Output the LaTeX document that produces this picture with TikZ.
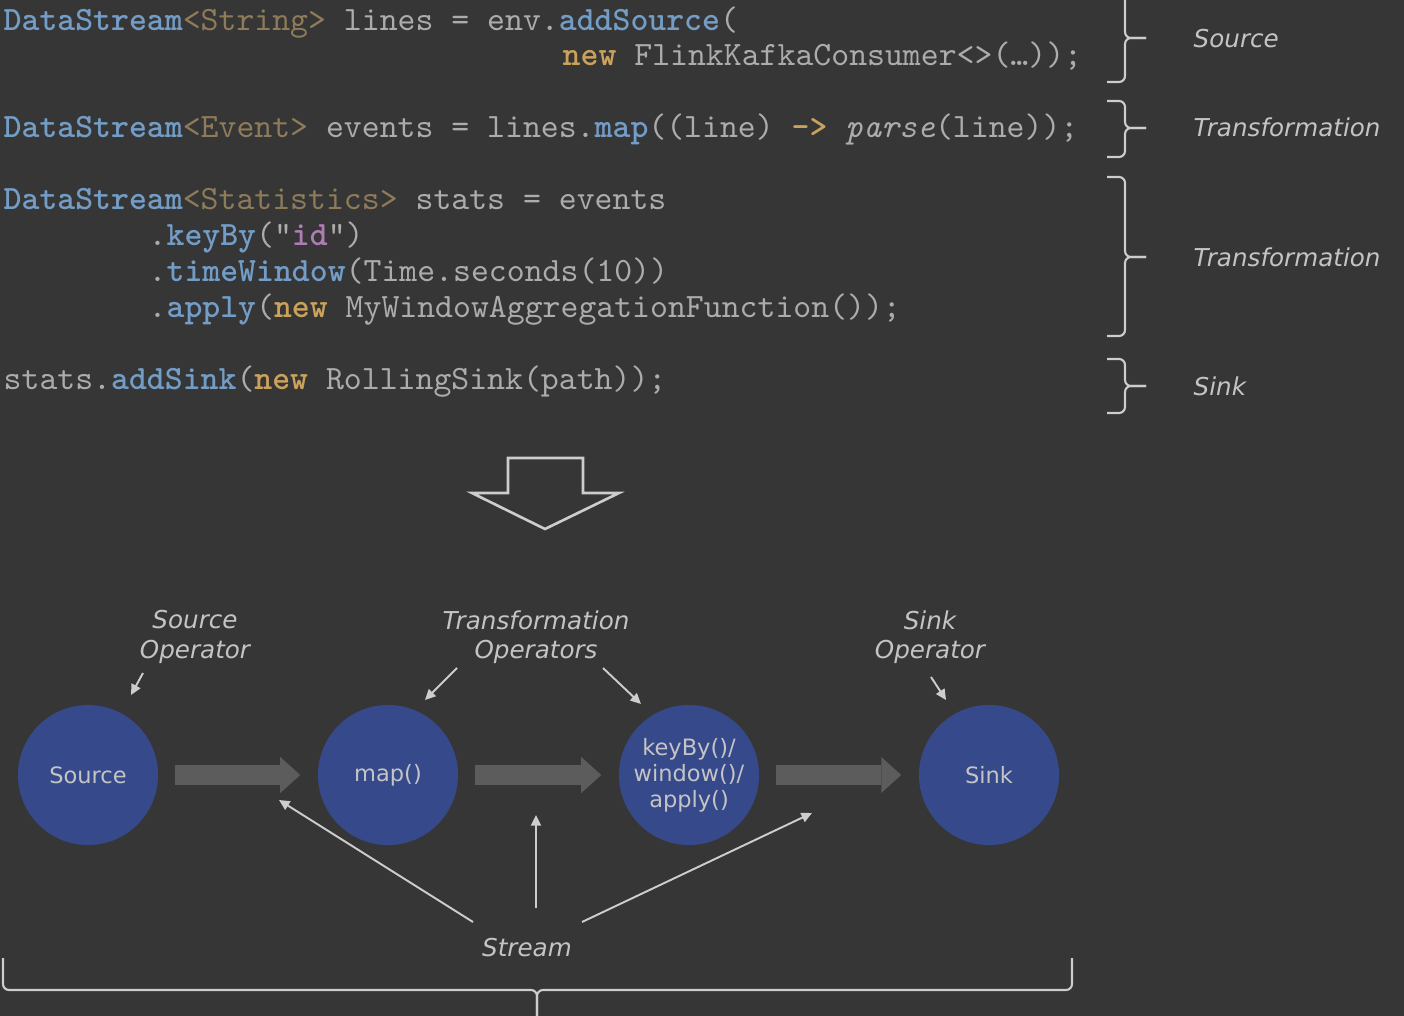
\documentclass[tikz,border=0pt]{standalone}
\usepackage{fontspec}
\setsansfont{DejaVu Sans}
\usepackage{xcolor}
\usetikzlibrary{arrows.meta,positioning,calc}

\definecolor{bgdark}{HTML}{363636}
\definecolor{codeplain}{HTML}{ACACAC}
\definecolor{codeblue}{HTML}{739DC6}
\definecolor{codetype}{HTML}{8E7B5A}
\definecolor{codekw}{HTML}{CBA25C}
\definecolor{codestr}{HTML}{B07CB6}
\definecolor{lbltext}{HTML}{C4C4C4}
\definecolor{opfill}{HTML}{36498A}
\definecolor{streamgray}{HTML}{5C5C5C}
\definecolor{linegray}{HTML}{CDCDCD}

\newcommand\codefont{\fontsize{9.7pt}{11pt}\ttfamily}
\newcommand\cfn[1]{{\bfseries\color{codeblue}#1}}
\newcommand\cty[1]{{\color{codetype}#1}}
\newcommand\ckw[1]{{\bfseries\color{codekw}#1}}
\newcommand\cstr[1]{{\bfseries\color{codestr}#1}}

\begin{document}
\begin{tikzpicture}[x=0.01cm,y=-0.01cm,
    codeln/.style={anchor=base west,inner sep=0pt,font=\codefont,text=codeplain},
    partlbl/.style={anchor=west,inner sep=0pt,font=\fontsize{7}{8.3}\selectfont\sffamily\itshape,text=lbltext},
    oplbl/.style={align=center,inner sep=0pt,font=\fontsize{7}{8.3}\selectfont\sffamily\itshape,text=lbltext},
    op/.style={circle,fill=opfill,minimum size=1.4cm,inner sep=0pt,align=center,text=lbltext,font=\fontsize{6.4}{7.4}\selectfont\sffamily},
    brc/.style={draw=linegray,line width=0.6pt,rounded corners=0.06cm},
    ptr/.style={draw=linegray,line width=0.55pt,-{Triangle[length=3pt,width=2.8pt]}},
    flow/.style={draw=streamgray,line width=0.2cm,shorten <=0.16cm,shorten >=0.17cm,-{Triangle[length=0.2cm,width=0.36cm,line width=0pt]}}
  ]
    \fill[bgdark] (0,0) rectangle (1404,1016);
    \useasboundingbox (0,0) rectangle (1404,1016);

    % program text
    \node[codeln] (l1) at (3,31) {\cfn{DataStream}\cty{<String>} lines = env.\cfn{addSource}(};
    \node[codeln] (l2) at (562,66) {\ckw{new} FlinkKafkaConsumer<>(…));};
    \node[codeln] (l3) at (3,138) {\cfn{DataStream}\cty{<Event>} events = lines.\cfn{map}((line) \ckw{->} \textit{parse}(line));};
    \node[codeln] (l4) at (3,210) {\cfn{DataStream}\cty{<Statistics>} stats = events};
    \node[codeln] (l5) at (148,246) {.\cfn{keyBy}("\cstr{id}")};
    \node[codeln] (l6) at (148,282) {.\cfn{timeWindow}(Time.seconds(10))};
    \node[codeln] (l7) at (148,318) {.\cfn{apply}(\ckw{new} MyWindowAggregationFunction());};
    \node[codeln] (l8) at (3,390) {stats.\cfn{addSink}(\ckw{new} RollingSink(path));};

    % braces on the right
    \foreach \t/\b/\m in {-20/82/38, 101/157/128, 177/336/257, 359/413/386} {
      \draw[brc] (1107,\t) -| (1125,\m) -- (1146,\m);
      \draw[brc] (1107,\b) -| (1125,\m) -- (1146,\m);
    }
    \node[partlbl] (p1) at (1193,39) {Source};
    \node[partlbl] (p2) at (1193,127) {Transformation};
    \node[partlbl] (p3) at (1193,257) {Transformation};
    \node[partlbl] (p4) at (1193,386) {Sink};

    % hollow arrow
    \draw[linegray,line width=0.75pt,line join=miter] (508,493) -- (508,458) -- (583,458) -- (583,493) -- (619,493) -- (545,529) -- (472,493) -- cycle;

    % dataflow
    \node[op] (src) at (88,775) {Source};
    \node[op] (mapop) at (388,775) {map()};
    \node[op] (winop) at (689,775) {keyBy()/\\window()/\\apply()};
    \node[op] (sinkop) at (989,775) {Sink};

    \draw[flow] (src) -- (mapop);
    \draw[flow] (mapop) -- (winop);
    \draw[flow] (winop) -- (sinkop);

    \node[oplbl] (srclbl) at (195,637) {Source\\Operator};
    \node[oplbl] (trlbl) at (536,637) {Transformation\\Operators};
    \node[oplbl] (sinklbl) at (930,637) {Sink\\Operator};
    \node[oplbl] (strlbl) at (527,948) {Stream};

    \draw[ptr] ([shift={(-52,36)}]srclbl.center) -- ([shift={(43,-80)}]src.center);
    \draw[ptr] ([shift={(-79,31)}]trlbl.center) -- ([shift={(37,-75)}]mapop.center);
    \draw[ptr] ([shift={(67,31)}]trlbl.center) -- ([shift={(-48,-71)}]winop.center);
    \draw[ptr] ([shift={(1,40)}]sinklbl.center) -- ([shift={(-43,-75)}]sinkop.center);

    \draw[ptr] ([shift={(-54,-26)}]strlbl.center) -- ([shift={(-109,25)}]mapop.center);
    \draw[ptr] ([shift={(9,-40)}]strlbl.center) -- ($(mapop)!0.5!(winop)+(-2.5,40)$);
    \draw[ptr] ([shift={(55,-26)}]strlbl.center) -- ([shift={(123,38)}]winop.center);

    % brace under the stream
    \draw[brc] (3,958) |- (537,990) -- (537,1030);
    \draw[brc] (1072,958) |- (537,990) -- (537,1030);
\end{tikzpicture}
\end{document}
